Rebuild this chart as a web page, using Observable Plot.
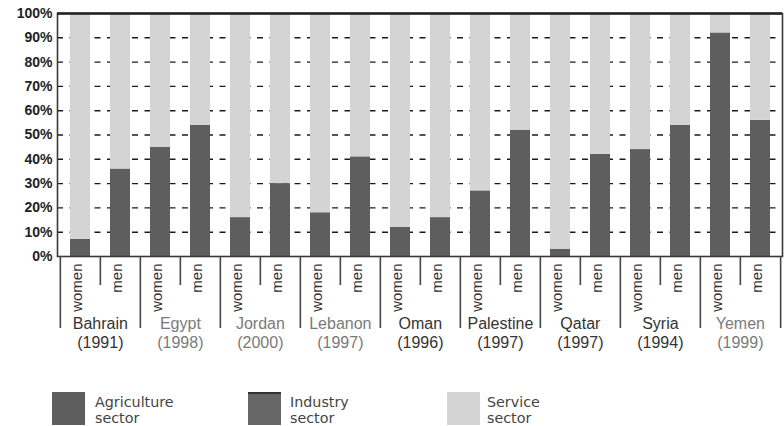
<!DOCTYPE html>
<html>
<head>
<meta charset="utf-8">
<script src="https://cdn.jsdelivr.net/npm/d3@7"></script>
<script src="https://cdn.jsdelivr.net/npm/@observablehq/plot@0.6"></script>
<style>
  html, body { margin: 0; padding: 0; background: #fff; }
  #wrap { position: relative; width: 784px; height: 426px; overflow: hidden; }
  #legend { position: absolute; left: 0; top: 0; width: 784px; height: 426px; pointer-events: none;
            font-family: "DejaVu Sans", Verdana, sans-serif; font-size: 14.3px; color: #444; }
  .sw { position: absolute; width: 33px; height: 33px; top: 392px; box-sizing: border-box; }
  .lt { position: absolute; top: 395px; line-height: 15.5px; }
</style>
</head>
<body>
<div id="wrap">
  <div id="chart"></div>
  <div id="legend"></div>
</div>
<script>
// ---- data ----
const countries = ["Bahrain", "Egypt", "Jordan", "Lebanon", "Oman", "Palestine", "Qatar", "Syria", "Yemen"];
const years = ["(1991)", "(1998)", "(2000)", "(1997)", "(1996)", "(1997)", "(1997)", "(1994)", "(1999)"];
const sexes = ["women", "men"];
const sectors = ["Agriculture sector", "Industry sector", "Service sector"];

const agricultureWomen = [7, 45, 16, 18, 12, 27, 3, 44, 92];
const agricultureMen   = [36, 54, 30, 41, 16, 52, 42, 54, 56];
const industryWomen    = [0, 0, 0, 0, 0, 0, 0, 0, 0];
const industryMen      = [0, 0, 0, 0, 0, 0, 0, 0, 0];
const serviceWomen     = [93, 55, 84, 82, 88, 73, 97, 56, 8];
const serviceMen       = [64, 46, 70, 59, 84, 48, 58, 46, 44];

const yTicks = [0, 10, 20, 30, 40, 50, 60, 70, 80, 90, 100];
const gridTicks = [10, 20, 30, 40, 50, 60, 70, 80, 90];

// ---- styling ----
const sectorColors = ["#5e5e5e", "#666666", "#d4d4d4"];
const fadedLabels = new Set(["Egypt", "Jordan", "Lebanon", "Yemen"]);

// ---- build table ----
const keys = countries.flatMap(c => sexes.map(s => c + "|" + s));
const womenKeys = keys.filter(k => k.endsWith("|women"));
const menKeys = keys.filter(k => k.endsWith("|men"));
const lastKey = keys.slice(-1);
const rows = [];
countries.forEach((c, i) => {
  const vals = {
    women: [agricultureWomen[i], industryWomen[i], serviceWomen[i]],
    men: [agricultureMen[i], industryMen[i], serviceMen[i]]
  };
  sexes.forEach(s => {
    sectors.forEach((sec, j) => rows.push({key: c + "|" + s, sector: sec, value: vals[s][j]}));
  });
});
const countryLabel = k => {
  const c = k.split("|")[0];
  return c + "\n" + years[countries.indexOf(c)];
};

const W = 784, H = 372, mL = 57, mR = 2;
const step = (W - mL - mR) / keys.length;
const half = step / 2;
const font = "'Liberation Sans', Arial, sans-serif";

const chart = Plot.plot({
  width: W,
  height: H,
  marginLeft: mL,
  marginRight: mR,
  marginTop: 13,
  marginBottom: 116,
  style: {fontFamily: font, background: "#fff", color: "#333"},
  x: {type: "band", domain: keys, paddingInner: 0.5, paddingOuter: 0.25},
  y: {domain: [0, 100]},
  color: {domain: sectors, range: sectorColors},
  marks: [
    Plot.ruleY(gridTicks, {stroke: "#1a1a1a", strokeWidth: 1.4, strokeDasharray: "6,6.5"}),
    Plot.barY(rows, {x: "key", y: "value", fill: "sector"}),
    Plot.frame({stroke: "#3a3a3a", strokeWidth: 1.6}),
    Plot.ruleY([100], {stroke: "#222", strokeWidth: 2.4}),
    Plot.axisY(yTicks, {tickSize: 0, tickPadding: 5, tickFormat: d => d + "%", fontSize: 14, fontWeight: "bold", fill: "#222", label: null}),
    // long separators between countries
    Plot.axisX(womenKeys, {tickSize: 72, dx: -half, tickFormat: () => "", stroke: "#444", strokeWidth: 1.6, label: null}),
    Plot.axisX(lastKey, {tickSize: 72, dx: half, tickFormat: () => "", stroke: "#444", strokeWidth: 1.6, label: null}),
    // short separators between women and men
    Plot.axisX(menKeys, {tickSize: 29, dx: -half, tickFormat: () => "", stroke: "#444", strokeWidth: 1.6, label: null}),
    // women / men labels
    Plot.axisX(keys, {tickSize: 0, tickPadding: 7, dx: -3, rotate: -90, textAnchor: "end", lineAnchor: "middle",
      tickFormat: k => k.split("|")[1], fontSize: 15, fill: "#333", label: null}),
    // country labels
    Plot.text(menKeys.filter(k => !fadedLabels.has(k.split("|")[0])), {x: d => d, dx: -half, frameAnchor: "bottom", dy: 59,
      text: countryLabel, lineAnchor: "top", lineHeight: 1.2, fontSize: 16, fill: "#333"}),
    Plot.text(menKeys.filter(k => fadedLabels.has(k.split("|")[0])), {x: d => d, dx: -half, frameAnchor: "bottom", dy: 59,
      text: countryLabel, lineAnchor: "top", lineHeight: 1.2, fontSize: 16, fill: "#7a7a7a"})
  ]
});
document.getElementById("chart").appendChild(chart);

// ---- legend ----
const legend = document.getElementById("legend");
const legendX = [52, 248, 447];
const legendTextX = [95, 290, 487];
sectors.forEach((s, i) => {
  const sw = document.createElement("div");
  sw.className = "sw";
  sw.style.left = legendX[i] + "px";
  sw.style.background = sectorColors[i];
  if (i === 1) sw.style.borderTop = "2px solid #333";
  legend.appendChild(sw);
  const t = document.createElement("div");
  t.className = "lt";
  t.style.left = legendTextX[i] + "px";
  t.innerHTML = s.replace(" ", "<br>");
  legend.appendChild(t);
});
</script>
</body>
</html>
